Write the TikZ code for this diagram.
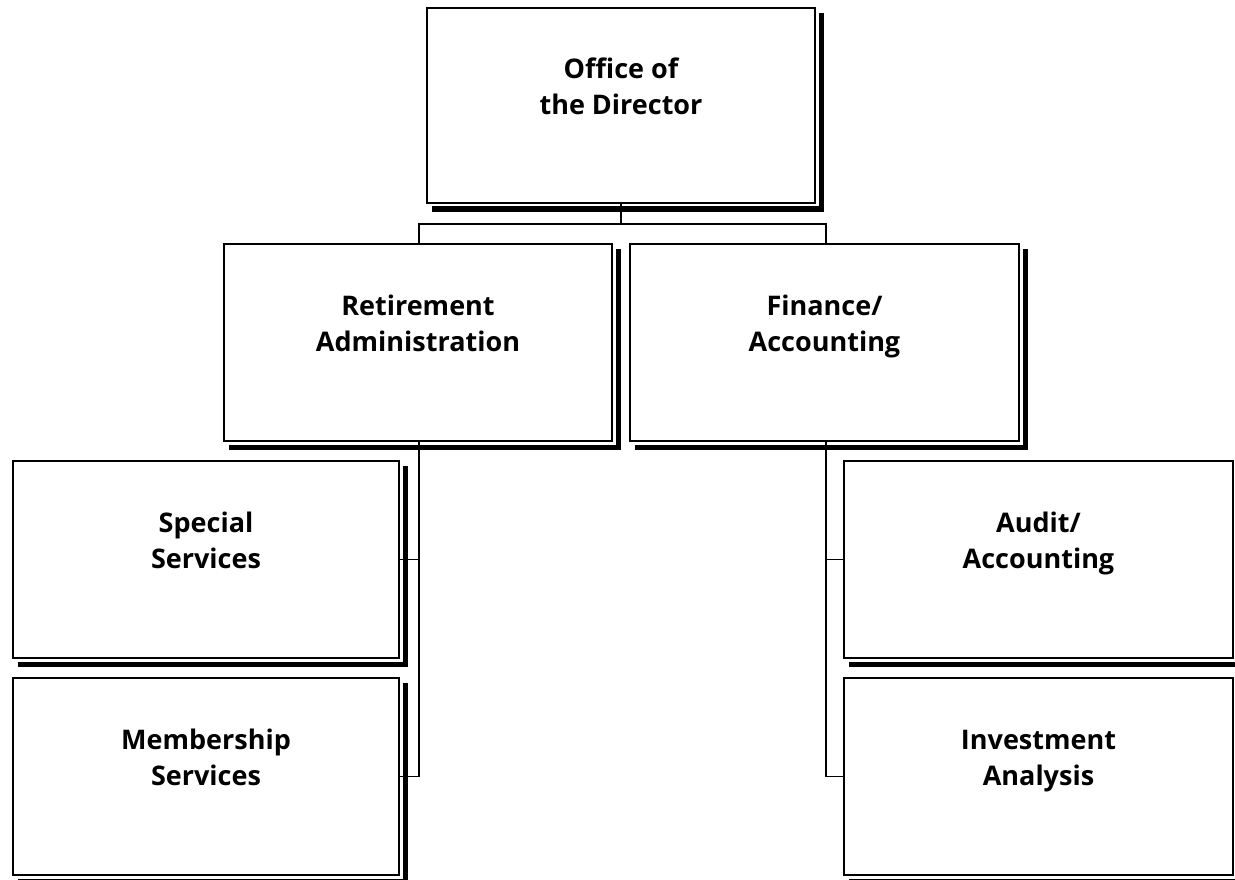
\documentclass[tikz,border=0pt]{standalone}
\usepackage{fontspec}
\setmainfont{Open Sans}
\begin{document}
\begin{tikzpicture}[x=1pt,y=-1pt,
  box/.style={draw=black, line width=2pt, fill=white, inner sep=0pt, anchor=north west},
  lbl/.style={anchor=base, inner sep=0pt, font=\fontsize{27}{36}\selectfont\bfseries},
  link/.style={draw=black, line width=1.8pt},
  shadow/.style={fill=black}
]
\useasboundingbox (0,0) rectangle (1235,880);
\newcommand{\dropshadow}[1]{%
  \fill[shadow] ([xshift=2.5pt,yshift=-6pt]#1.north east) rectangle ([xshift=8pt,yshift=-8pt]#1.south east);
  \fill[shadow] ([xshift=6pt,yshift=-2.5pt]#1.south west) rectangle ([xshift=8pt,yshift=-8pt]#1.south east);}
\newcommand{\boxlabel}[3]{%
  \node[lbl] (#2) at ([yshift=-72pt]#1.north) {\begin{tabular}[t]{@{}c@{}}#3\end{tabular}};}

% boxes
\node[box, minimum width=388pt, minimum height=195pt] (dir) at (426,7) {};
\node[box, minimum width=388pt, minimum height=197pt] (ret) at (223,243) {};
\node[box, minimum width=389pt, minimum height=197pt] (fin) at (629,243) {};
\node[box, minimum width=386pt, minimum height=197pt] (spec) at (12,460) {};
\node[box, minimum width=386pt, minimum height=197pt] (mem) at (12,677) {};
\node[box, minimum width=389pt, minimum height=197pt] (aud) at (843,460) {};
\node[box, minimum width=389pt, minimum height=197pt] (inv) at (843,677) {};

\dropshadow{dir}
\dropshadow{ret}
\dropshadow{fin}
\dropshadow{spec}
\dropshadow{mem}
\dropshadow{aud}
\dropshadow{inv}

% labels
\boxlabel{dir}{dirT}{Office of\\the Director}
\boxlabel{ret}{retT}{Retirement\\Administration}
\boxlabel{fin}{finT}{Finance/\\Accounting}
\boxlabel{spec}{specT}{Special\\Services}
\boxlabel{mem}{memT}{Membership\\Services}
\boxlabel{aud}{audT}{Audit/\\Accounting}
\boxlabel{inv}{invT}{Investment\\Analysis}

% connectors
\coordinate (bus) at (0,224);
\coordinate (retX) at (419,0);
\coordinate (finX) at (826,0);
\draw[link] (dir.south) -- (dir.south |- bus);
\draw[link] (ret.north -| retX) -- (retX |- bus) -- (finX |- bus) -- (fin.north -| finX);
\draw[link] (ret.south -| retX) -- (retX |- mem.east) -- (mem.east);
\draw[link] (spec.east) -- (spec.east -| retX);
\draw[link] (fin.south -| finX) -- (finX |- inv.west) -- (inv.west);
\draw[link] (aud.west) -- (aud.west -| finX);
\end{tikzpicture}
\end{document}
